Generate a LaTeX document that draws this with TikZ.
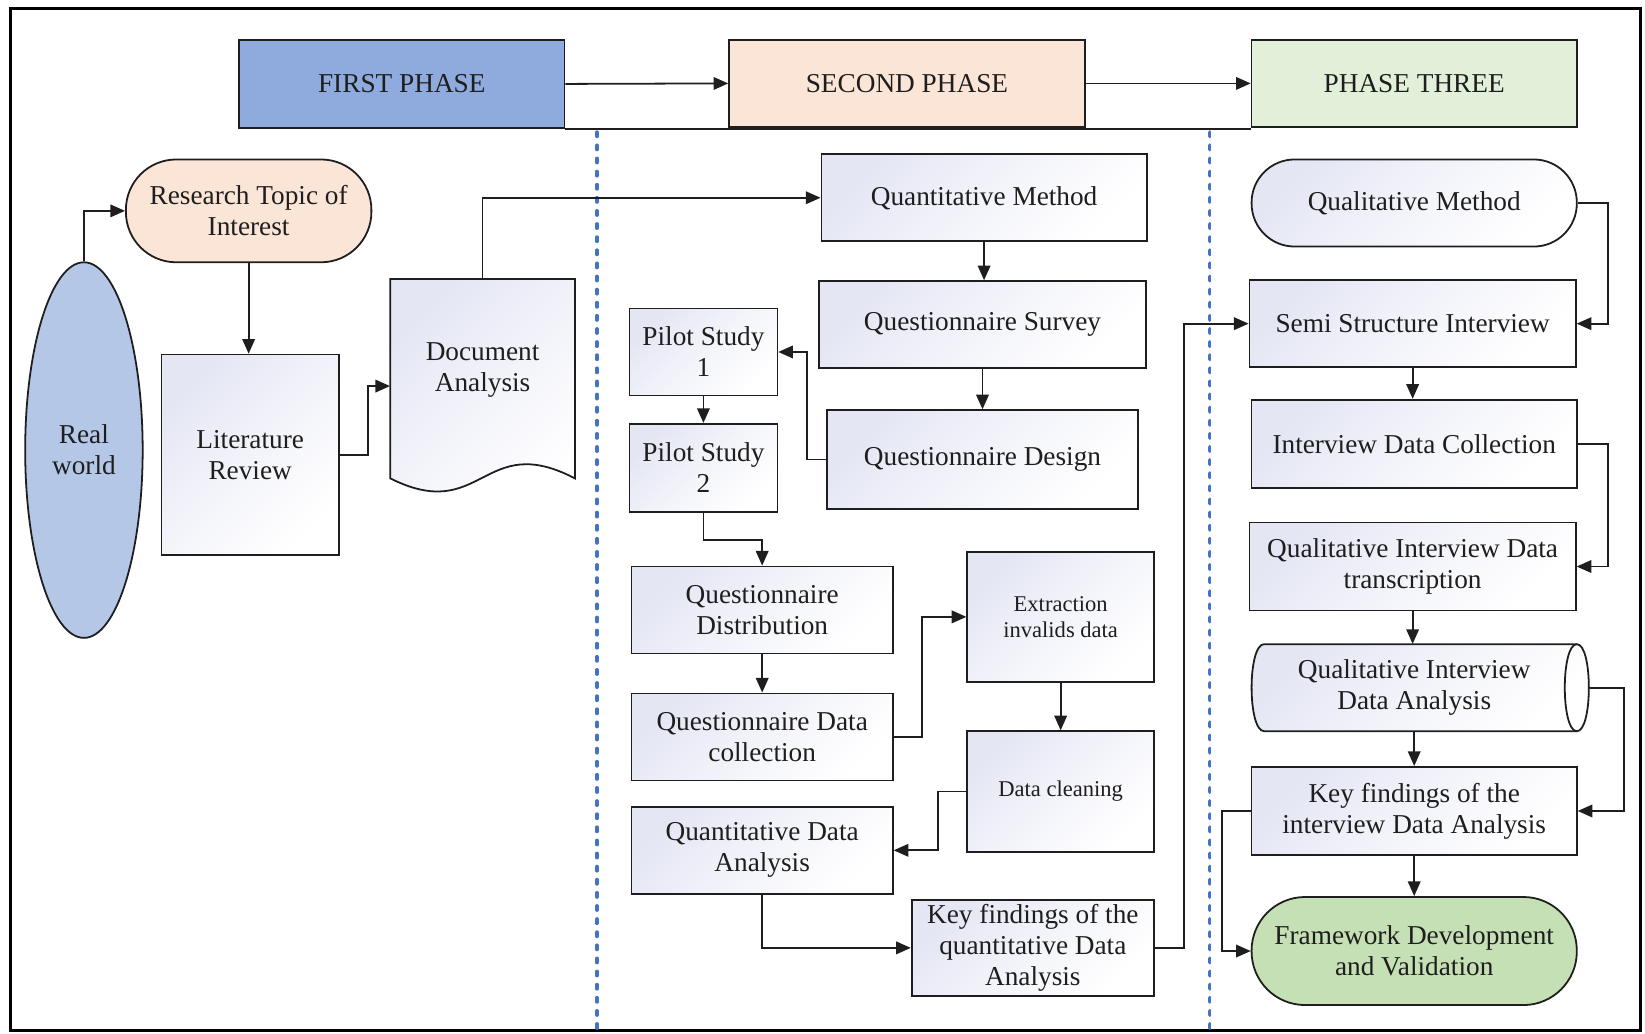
\documentclass[tikz,border=0pt]{standalone}
\usepackage{fontspec}
\setmainfont{Liberation Serif}
\usetikzlibrary{arrows.meta,calc,shapes.geometric}
\definecolor{phaseone}{HTML}{8FAADC}
\definecolor{peach}{HTML}{FBE5D6}
\definecolor{phasethree}{HTML}{E2F0D9}
\definecolor{worldblue}{HTML}{B4C7E7}
\definecolor{greenfw}{HTML}{C5E0B4}
\definecolor{lav}{HTML}{E4E6F4}
\definecolor{divider}{HTML}{4472C4}
\definecolor{ink}{HTML}{1E1E1E}

\begin{document}
\begin{tikzpicture}[x=1pt,y=-1pt,
  every node/.style={font=\fontsize{26}{29.5}\selectfont, align=center, inner sep=0pt, text=ink},
  small/.style={font=\fontsize{21.5}{24.5}\selectfont},
  outline/.style={draw=ink, line width=1.7pt},
  grad/.style={top color=lav, bottom color=white, middle color=lav!45!white, shading angle=45},
  sz/.style 2 args={minimum width=#1pt, minimum height=#2pt},
  box/.style={outline, grad, rectangle},
  phase/.style={outline, rectangle},
  pill/.style={outline, rectangle, rounded corners=#1},
  ln/.style={draw=ink, line width=1.7pt},
  arr/.style={draw=ink, line width=1.7pt, -{Triangle[length=14pt,width=12pt]}},
  divline/.style={draw=divider, line width=3.5pt, line cap=round, dash pattern=on 4pt off 8.5pt}
]
\useasboundingbox (0,0) rectangle (1568,985);

% outer frame
\draw[line width=3pt] (10,8) rectangle (1564,982);

% phase dividers
\draw[divline] (569,126) -- (569,980);
\draw[divline] (1153,126) -- (1153,980);

% phase headers
\node[phase, fill=phaseone, sz={310}{84}] (first) at (383,80) {FIRST PHASE};
\node[phase, fill=peach, sz={339}{83}] (second) at (864.5,79.5) {SECOND PHASE};
\node[phase, fill=phasethree, sz={310}{83}] (third) at (1348,79.5) {PHASE THREE};

% first phase
\node[outline, ellipse, fill=worldblue, sz={112}{358}] (world) at (80,429) {Real\\world};
\node[pill=48pt, fill=peach, sz={234}{98}] (topic) at (237,201) {Research Topic of\\Interest};
\node[box, sz={169}{191}] (lit) at (238.5,433.5) {Literature\\Review};
\path[outline, grad] (372,266) -- (548,266) -- (548,456)
  .. controls (460,410) and (460,500) .. (372,456) -- cycle;
\node[sz={176}{174}] (doc) at (460,353) {Document\\Analysis};

% second phase
\node[box, sz={310}{83}] (qm) at (938,188.5) {Quantitative Method};
\node[box, sz={311}{83}] (qs) at (936.5,309.5) {Questionnaire Survey};
\node[box, sz={297}{94}] (qd) at (936.5,438) {Questionnaire Design};
\node[box, sz={141}{83}] (ps1) at (670.5,335.5) {Pilot Study\\1};
\node[box, sz={141}{84}] (ps2) at (670.5,446) {Pilot Study\\2};
\node[box, sz={249}{83}] (qdist) at (726.5,581.5) {Questionnaire\\Distribution};
\node[box, sz={249}{83}] (qdc) at (726.5,702.5) {Questionnaire Data\\collection};
\node[box, small, sz={178}{124}] (ext) at (1011,588) {Extraction\\invalids data};
\node[box, small, sz={178}{115}] (clean) at (1011,754.5) {Data cleaning};
\node[box, sz={249}{83}] (qda) at (726.5,810.5) {Quantitative Data\\Analysis};
\node[box, sz={231}{91}] (kfq) at (984.5,903.5) {Key findings of the\\quantitative Data\\Analysis};

% third phase
\node[pill=41pt, grad, sz={310}{83}] (qlm) at (1348,193.5) {Qualitative Method};
\node[box, sz={311}{83}] (ssi) at (1346.5,308.5) {Semi Structure Interview};
\node[box, sz={310}{84}] (idc) at (1348,423) {Interview Data Collection};
\node[box, sz={311}{84}] (qidt) at (1346.5,540) {Qualitative Interview Data\\transcription};
\path[outline, grad] (1205,614) -- (1503,614)
  .. controls (1518.3,614) and (1518.3,697) .. (1503,697) -- (1205,697)
  .. controls (1189,697) and (1189,614) .. (1205,614) -- cycle;
\draw[outline] (1503,614) .. controls (1487.7,614) and (1487.7,697) .. (1503,697);
\node[sz={310}{83}] (qida) at (1348,655.5) {Qualitative Interview\\Data Analysis};
\node[box, sz={310}{84}] (kfi) at (1348,773) {Key findings of the\\interview Data Analysis};
\node[pill=51pt, fill=greenfw, sz={310}{103}] (fw) at (1348,906.5) {Framework Development\\and Validation};

% header connectors
\draw[arr] (first.east) -- (second.west);
\draw[arr] (second.east) -- (third.west);
\draw[ln] (first.south east) -- (first.south east -| third.west);

% first phase connectors
\draw[arr] (world.north) |- (topic.west);
\draw[arr] (topic.south) -- (topic.south |- lit.north);
\draw[arr] (lit.east) -- ++(27,0) |- ([yshift=-15pt]doc.west);
\draw[arr] (doc.north) |- (qm.west);

% second phase connectors
\draw[arr] (qm.south) -- (qm.south |- qs.north);
\draw[arr] (qs.south) -- (qd.north);
\draw[arr] (qd.west) -- ++(-18,0) |- (ps1.east);
\draw[arr] (ps1.south) -- (ps2.north);
\draw[arr] (ps2.south) -- ++(0,26) -| (qdist.north);
\draw[arr] (qdist.south) -- (qdc.north);
\draw[arr] (qdc.east) -- ++(27,0) |- (ext.west);
\draw[arr] (ext.south) -- (clean.north);
\draw[arr] (clean.west) -- ++(-27,0) |- (qda.east);
\draw[arr] (qda.south) |- (kfq.west);
\draw[arr] (kfq.east) -- ++(28,0) |- (ssi.west);

% third phase connectors
\draw[arr] (qlm.east) -- ++(29,0) |- (ssi.east);
\draw[arr] (ssi.south) -- (ssi.south |- idc.north);
\draw[arr] (idc.east) -- ++(29,0) |- (qidt.east);
\draw[arr] (qidt.south) -- (qidt.south |- qida.north);
\draw[arr] ([xshift=12pt]qida.east) -- ++(33,0) |- (kfi.east);
\draw[arr] (qida.south) -- (kfi.north);
\draw[arr] (kfi.south) -- (fw.north);
\draw[arr] (kfi.west) -- ++(-27,0) |- (fw.west);
\end{tikzpicture}
\end{document}
